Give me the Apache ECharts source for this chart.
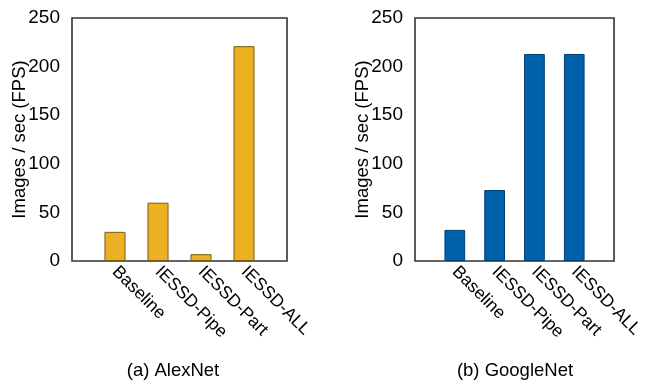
<!DOCTYPE html>
<html>
<head>
<meta charset="utf-8">
<script src="https://cdn.jsdelivr.net/npm/echarts@6/dist/echarts.min.js"></script>
<style>html,body{margin:0;padding:0;background:#fff}#c{width:646px;height:380px}</style>
</head>
<body>
<div id="c"></div>
<script>
var categories = ['Baseline', 'IESSD-Pipe', 'IESSD-Part', 'IESSD-ALL'];
var alexnetFps = [30, 60, 7, 221];
var googlenetFps = [32, 73, 213, 213];
var yTicks = [0, 50, 100, 150, 200, 250];
var titles = ['(a) AlexNet', '(b) GoogleNet'];
var yName = 'Images / sec (FPS)';

var font = 'Liberation Sans, Arial, Helvetica, sans-serif';
var padded = [''].concat(categories, ['']);
function pad(v) { return [null].concat(v, [null]); }

function xAxis(idx) {
  return {
    type: 'category', gridIndex: idx, data: padded, boundaryGap: false,
    axisLine: { show: false }, axisTick: { show: false },
    axisLabel: { interval: 0, rotate: -45, margin: 8, color: '#000', fontSize: 17.5, fontFamily: font }
  };
}
function yAxis(idx) {
  return {
    type: 'value', gridIndex: idx, min: yTicks[0], max: yTicks[yTicks.length - 1], interval: 50,
    name: yName, nameLocation: 'middle', nameGap: 43, nameMoveOverlap: false,
    nameTextStyle: { color: '#000', fontSize: 18.5, fontFamily: font },
    axisLine: { show: false }, axisTick: { show: false }, splitLine: { show: false },
    axisLabel: { color: '#000', fontSize: 19, fontFamily: font, margin: 12 }
  };
}

var chart = echarts.init(document.getElementById('c'), null, { renderer: 'canvas' });
chart.setOption({
  animation: false,
  backgroundColor: '#fff',
  title: [
    { text: titles[0], left: 168, top: 356, textAlign: 'center', textStyle: { fontSize: 18.5, fontWeight: 'normal', color: '#000', fontFamily: font } },
    { text: titles[1], left: 510, top: 356, textAlign: 'center', textStyle: { fontSize: 18.5, fontWeight: 'normal', color: '#000', fontFamily: font } }
  ],
  grid: [
    { left: 72, top: 18, width: 215, height: 243, show: true, borderColor: '#333', borderWidth: 1.6, backgroundColor: 'transparent' },
    { left: 415, top: 18, width: 210, height: 243, show: true, borderColor: '#333', borderWidth: 1.6, backgroundColor: 'transparent' }
  ],
  xAxis: [xAxis(0), xAxis(1)],
  yAxis: [yAxis(0), yAxis(1)],
  series: [
    { type: 'bar', xAxisIndex: 0, yAxisIndex: 0, data: pad(alexnetFps), barWidth: '49%',
      itemStyle: { color: '#ECB023', borderColor: '#7a5a12', borderWidth: 1 } },
    { type: 'bar', xAxisIndex: 1, yAxisIndex: 1, data: pad(googlenetFps), barWidth: '52%',
      itemStyle: { color: '#0061AB', borderColor: '#003d70', borderWidth: 1 } }
  ]
});
</script>
</body>
</html>
